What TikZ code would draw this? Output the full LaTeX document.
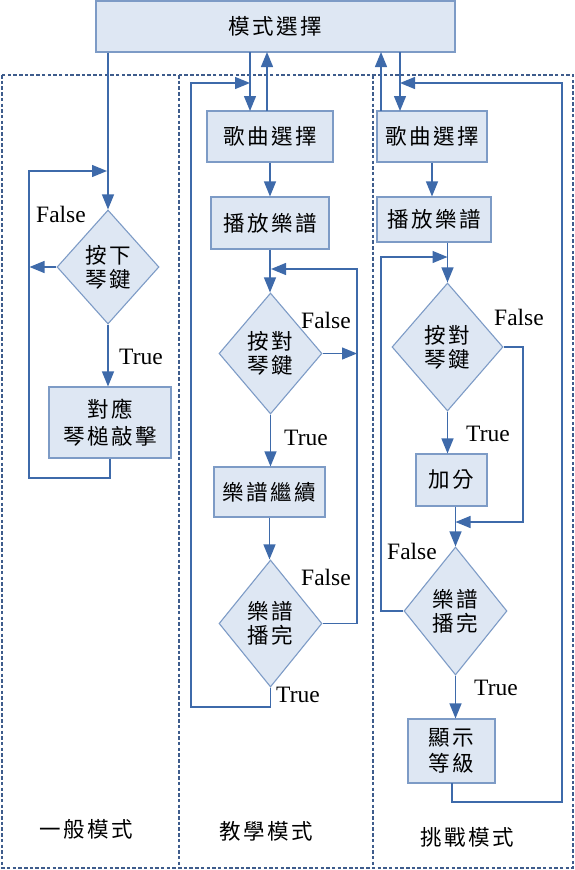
\documentclass[tikz,border=0pt]{standalone}
\usepackage{fontspec}
\usetikzlibrary{shapes.geometric,arrows.meta}
\newfontfamily\cjk[LetterSpace=11]{Noto Sans CJK TC}
\setmainfont{Liberation Serif}
\definecolor{boxfill}{RGB}{222,231,243}
\definecolor{boxline}{RGB}{125,155,198}
\definecolor{arrowc}{RGB}{62,106,170}
\definecolor{dashc}{RGB}{62,92,140}
\tikzset{
  procbox/.style={draw=boxline, fill=boxfill, line width=1.1pt, inner sep=0pt, align=center, font=\fontsize{21.5}{26}\selectfont\cjk},
  decbox/.style={diamond, draw=boxline, fill=boxfill, line width=1.1pt, inner sep=0pt, align=center, font=\fontsize{21.5}{24}\selectfont\cjk},
  conn/.style={draw=arrowc, line width=1.3pt},
  arr/.style={conn, -{Triangle[length=15pt,width=12pt]}},
  lbl/.style={font=\fontsize{23.5}{23.5}\selectfont, inner sep=0pt},
  modelbl/.style={font=\fontsize{21.5}{24}\selectfont\cjk, inner sep=0pt},
  frame/.style={draw=dashc, line width=1.7pt, dash pattern=on 3.5pt off 2.2pt},
}
\begin{document}
\begin{tikzpicture}[x=1pt,y=-1pt]
\useasboundingbox (0,0) rectangle (575,870);
% dashed frames
\draw[frame] (2,75) rectangle (573,868);
\draw[frame] (179,75) -- (179,868);
\draw[frame] (373,75) -- (373,868);

% top box
\node[procbox, minimum width=359pt, minimum height=51pt] (mode) at (275.5,26.5) {模式選擇};

% left column
\node[decbox, minimum width=102pt, minimum height=114pt] (d1) at (108,267) {按下\\琴鍵};
\node[procbox, minimum width=122pt, minimum height=71pt, font=\fontsize{21.5}{27}\selectfont\cjk] (b1) at (110,422.5) {對應\\琴槌敲擊};
\coordinate (l1a) at (107,171);
\draw[arr] (mode.south -| d1.north) -- (d1.north);
\draw[arr] (d1.south) -- (d1.south |- b1.north);
\draw[arr] (d1.west) -- (29.5,267);
\draw[arr] (b1.south) -- (110,478) -- (29,478) -- (29,171) -- (l1a);
\node[lbl] (f1) at (61,214) {False};
\node[lbl] (t1) at (141,357) {True};

% middle column
\node[procbox, minimum width=126pt, minimum height=51pt] (s1) at (270,136.5) {歌曲選擇};
\node[procbox, minimum width=118pt, minimum height=52pt] (p1) at (270,223) {播放樂譜};
\node[decbox, minimum width=103pt, minimum height=121pt] (d2) at (270.5,353.5) {按對\\琴鍵};
\node[procbox, minimum width=111pt, minimum height=50pt] (c2) at (269.5,492) {樂譜繼續};
\node[decbox, minimum width=103pt, minimum height=127pt] (d3) at (270.5,623.5) {樂譜\\播完};
\coordinate (m1) at (250,83);
\coordinate (m2) at (271,269);
\draw[arr] (250,52) -- (250,111);
\draw[arr] (267,111) -- (267,52);
\draw[arr] (s1.south) -- (s1.south |- p1.north);
\draw[arr] (p1.south) -- (p1.south |- d2.north);
\draw[arr] (d2.south) -- (d2.south |- c2.north);
\draw[arr] (c2.south) -- (c2.south |- d3.north);
\draw[arr] (d2.east) -- (357,353.5);
\draw[arr] (d3.east) -- (357,623.5) -- (357,269) -- (m2);
\draw[arr] (d3.south) -- (270.5,707) -- (191,707) -- (191,83) -- (m1);
\node[lbl] (f2) at (326,320) {False};
\node[lbl] (t2) at (306,438) {True};
\node[lbl] (f3) at (326,577) {False};
\node[lbl] (t3) at (298,695) {True};

% right column
\node[procbox, minimum width=110pt, minimum height=51pt] (s2) at (432,136.5) {歌曲選擇};
\node[procbox, minimum width=114pt, minimum height=45pt] (p2) at (434,219.5) {播放樂譜};
\node[decbox, minimum width=111pt, minimum height=128pt] (d4) at (447.5,347) {按對\\琴鍵};
\node[procbox, minimum width=71pt, minimum height=52pt] (a4) at (451.5,480) {加分};
\node[decbox, minimum width=103pt, minimum height=128pt] (d5) at (455.5,611) {樂譜\\播完};
\node[procbox, minimum width=87pt, minimum height=64pt] (g5) at (451.5,751) {顯示\\等級};
\coordinate (r1) at (400,83);
\coordinate (r2) at (447.5,257);
\coordinate (r3) at (455.5,522);
\draw[arr] (381,111) -- (381,52);
\draw[arr] (400,52) -- (400,111);
\draw[arr] (s2.south) -- (s2.south |- p2.north);
\draw[arr] (d4.north |- p2.south) -- (d4.north);
\draw[arr] (d4.south) -- (d4.south |- a4.north);
\draw[arr] (d5.north |- a4.south) -- (d5.north);
\draw[arr] (d4.east) -- (523,347) -- (523,522) -- (r3);
\draw[arr] (d5.west) -- (381,611) -- (381,257) -- (r2);
\draw[arr] (d5.south) -- (d5.south |- g5.north);
\draw[arr] (452,783) -- (452,802) -- (562,802) -- (562,83) -- (r1);
\node[lbl] (f4) at (519,317) {False};
\node[lbl] (t4) at (488,434) {True};
\node[lbl] (f5) at (412,551) {False};
\node[lbl] (t5) at (496,688) {True};

% mode labels
\node[modelbl] (n1) at (86,829) {一般模式};
\node[modelbl] (n2) at (266,831) {教學模式};
\node[modelbl] (n3) at (467,837) {挑戰模式};
\end{tikzpicture}
\end{document}
